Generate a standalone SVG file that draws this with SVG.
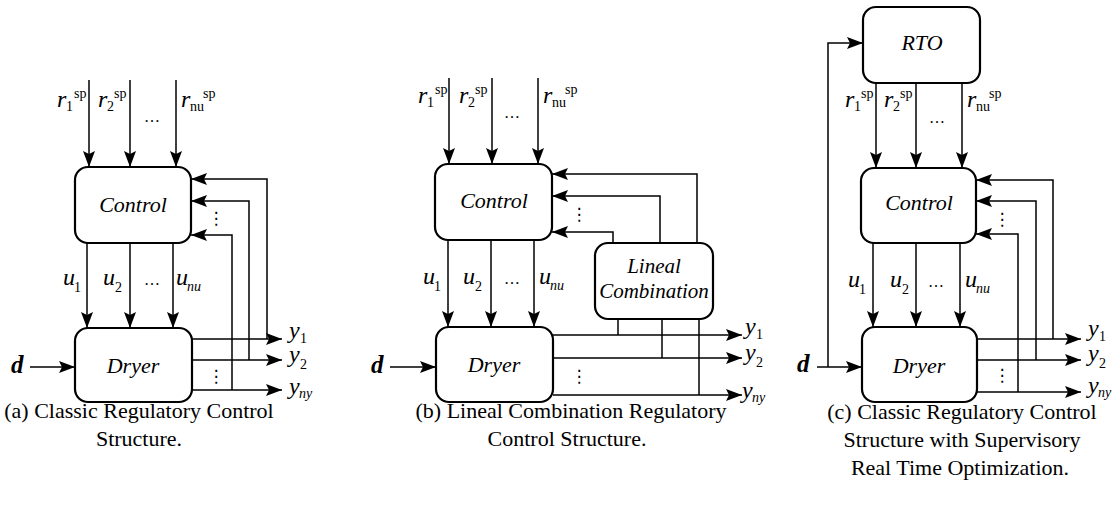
<svg xmlns="http://www.w3.org/2000/svg" width="1119" height="508" viewBox="0 0 1119 508">
  <style>
    .box { fill: #ffffff; stroke: #000000; stroke-width: 2.2; }
    .wire { fill: none; stroke: #000000; stroke-width: 1.5; }
    .arr { marker-end: url(#head); }
    .serif { font-family: 'Liberation Serif', Tinos, 'Noto Serif', 'DejaVu Serif', 'Times New Roman', Times, serif; }
    .name { font-style: italic; font-size: 22px; fill: #000; text-anchor: middle; }
    .lbl { font-style: italic; font-size: 24px; fill: #000; }
    .sub { font-style: normal; font-size: 14px; }
    .isub { font-style: italic; font-size: 14px; }
    .dist { font-style: italic; font-weight: bold; font-size: 25px; fill: #000; }
    .ell { font-size: 16px; fill: #000; text-anchor: middle; }
    .vdots { font-family: 'DejaVu Sans', sans-serif; font-size: 17px; fill: #000; text-anchor: middle; }
    .cap { font-size: 22px; fill: #000; text-anchor: middle; }
  </style>
  <defs>
    <marker id="head" markerUnits="userSpaceOnUse" markerWidth="18" markerHeight="14" refX="16" refY="7" orient="auto">
      <path d="M0,1 L16,7 L0,13 L3,7 Z" fill="#000"/>
    </marker>
  </defs>

  <!-- ===== (a) classic regulatory control ===== -->
  <g id="a-control">
    <rect class="box" x="75" y="167" width="116" height="76" rx="13"/>
    <text class="serif name" font-family="Liberation Serif, serif" x="133" y="212">Control</text>
  </g>
  <g id="a-dryer">
    <rect class="box" x="75" y="328" width="117" height="74" rx="13"/>
    <text class="serif name" font-family="Liberation Serif, serif" x="133" y="373">Dryer</text>
  </g>
  <g id="a-connectors">
    <path class="wire arr" d="M89,80 V167"/>
    <path class="wire arr" d="M130,80 V167"/>
    <path class="wire arr" d="M176,80 V167"/>
    <path class="wire arr" d="M87,243 V328"/>
    <path class="wire arr" d="M130,243 V328"/>
    <path class="wire arr" d="M173,243 V328"/>
    <path class="wire arr" d="M192,339 H282"/>
    <path class="wire arr" d="M192,360 H282"/>
    <path class="wire arr" d="M192,390 H282"/>
    <path class="wire arr" d="M267,339 V179 H191"/>
    <path class="wire arr" d="M249,360 V201 H191"/>
    <path class="wire arr" d="M232,390 V235 H191"/>
    <path class="wire arr" d="M30,367 H75"/>
  </g>
  <g id="a-labels" class="serif">
    <text class="lbl" x="57" y="107">r<tspan class="sub" x="66" y="111">1</tspan><tspan class="sub" x="74" y="98">sp</tspan></text>
    <text class="lbl" x="98" y="107">r<tspan class="sub" x="107" y="111">2</tspan><tspan class="sub" x="114" y="98">sp</tspan></text>
    <text class="lbl" x="181" y="107">r<tspan class="sub" x="190" y="111">nu</tspan><tspan class="sub" x="203" y="98">sp</tspan></text>
    <text class="ell" x="152" y="122">…</text>
    <text class="lbl" x="63" y="285">u<tspan class="sub" x="74" y="292">1</tspan></text>
    <text class="lbl" x="103" y="285">u<tspan class="sub" x="115" y="292">2</tspan></text>
    <text class="ell" x="152" y="285">…</text>
    <text class="lbl" x="176" y="285">u<tspan class="isub" x="187" y="291">nu</tspan></text>
    <text class="vdots" x="216" y="224">⋮</text>
    <text class="vdots" x="216" y="382">⋮</text>
    <text class="lbl" x="289" y="338">y<tspan class="sub" x="300" y="343">1</tspan></text>
    <text class="lbl" x="289" y="362">y<tspan class="sub" x="300" y="369">2</tspan></text>
    <text class="lbl" x="289" y="394">y<tspan class="isub" x="299" y="398">ny</tspan></text>
    <text class="dist" x="11" y="373">d</text>
    <text class="cap" x="139" y="418">(a) Classic Regulatory Control</text>
    <text class="cap" x="139" y="446">Structure.</text>
  </g>

  <!-- ===== (b) lineal combination regulatory control ===== -->
  <g id="b-control">
    <rect class="box" x="435" y="164" width="117" height="76" rx="13"/>
    <text class="serif name" x="494" y="208">Control</text>
  </g>
  <g id="b-dryer">
    <rect class="box" x="436" y="327" width="117" height="75" rx="13"/>
    <text class="serif name" x="494" y="372">Dryer</text>
  </g>
  <g id="b-combination">
    <rect class="box" x="595" y="243" width="118" height="76" rx="13"/>
    <text class="serif name" x="654" y="273" style="font-size:21px">Lineal</text>
    <text class="serif name" x="654" y="298" style="font-size:21px">Combination</text>
  </g>
  <g id="b-connectors">
    <path class="wire arr" d="M449,78 V164"/>
    <path class="wire arr" d="M492,78 V164"/>
    <path class="wire arr" d="M538,78 V164"/>
    <path class="wire arr" d="M448,240 V327"/>
    <path class="wire arr" d="M491,240 V327"/>
    <path class="wire arr" d="M534,240 V327"/>
    <path class="wire arr" d="M553,335 H742"/>
    <path class="wire arr" d="M553,358 H742"/>
    <path class="wire arr" d="M553,395 H742"/>
    <path class="wire" d="M618,335 V319"/>
    <path class="wire" d="M662,358 V319"/>
    <path class="wire" d="M699,395 V319"/>
    <path class="wire arr" d="M613,243 V232 H552"/>
    <path class="wire arr" d="M660,243 V196 H552"/>
    <path class="wire arr" d="M697,243 V174 H552"/>
    <path class="wire arr" d="M390,367 H436"/>
  </g>
  <g id="b-labels" class="serif">
    <text class="lbl" x="418" y="103">r<tspan class="sub" x="427" y="107">1</tspan><tspan class="sub" x="435" y="94">sp</tspan></text>
    <text class="lbl" x="459" y="103">r<tspan class="sub" x="468" y="107">2</tspan><tspan class="sub" x="475" y="94">sp</tspan></text>
    <text class="lbl" x="543" y="103">r<tspan class="sub" x="552" y="107">nu</tspan><tspan class="sub" x="565" y="94">sp</tspan></text>
    <text class="ell" x="512" y="118">…</text>
    <text class="lbl" x="423" y="284">u<tspan class="sub" x="434" y="291">1</tspan></text>
    <text class="lbl" x="463" y="284">u<tspan class="sub" x="475" y="291">2</tspan></text>
    <text class="ell" x="512" y="284">…</text>
    <text class="lbl" x="539" y="284">u<tspan class="isub" x="550" y="290">nu</tspan></text>
    <text class="vdots" x="579" y="220">⋮</text>
    <text class="vdots" x="579" y="382">⋮</text>
    <text class="lbl" x="745" y="334">y<tspan class="sub" x="756" y="339">1</tspan></text>
    <text class="lbl" x="745" y="360">y<tspan class="sub" x="756" y="367">2</tspan></text>
    <text class="lbl" x="742" y="398">y<tspan class="isub" x="752" y="402">ny</tspan></text>
    <text class="dist" x="371" y="373">d</text>
    <text class="cap" x="571" y="418">(b) Lineal Combination Regulatory</text>
    <text class="cap" x="567" y="446">Control Structure.</text>
  </g>

  <!-- ===== (c) classic regulatory control with supervisory RTO ===== -->
  <g id="c-rto">
    <rect class="box" x="863" y="7" width="117" height="76" rx="13"/>
    <text class="serif name" x="922" y="50">RTO</text>
  </g>
  <g id="c-control">
    <rect class="box" x="861" y="168" width="115" height="75" rx="13"/>
    <text class="serif name" x="919" y="210">Control</text>
  </g>
  <g id="c-dryer">
    <rect class="box" x="862" y="327" width="115" height="75" rx="13"/>
    <text class="serif name" x="919" y="373">Dryer</text>
  </g>
  <g id="c-connectors">
    <path class="wire arr" d="M876,83 V168"/>
    <path class="wire arr" d="M916,83 V168"/>
    <path class="wire arr" d="M962,83 V168"/>
    <path class="wire arr" d="M873,243 V327"/>
    <path class="wire arr" d="M916,243 V327"/>
    <path class="wire arr" d="M960,243 V327"/>
    <path class="wire arr" d="M977,339 H1081"/>
    <path class="wire arr" d="M977,360 H1081"/>
    <path class="wire arr" d="M977,392 H1081"/>
    <path class="wire arr" d="M1053,339 V180 H976"/>
    <path class="wire arr" d="M1036,360 V201 H976"/>
    <path class="wire arr" d="M1018,392 V234 H976"/>
    <path class="wire arr" d="M817,367 H862"/>
    <path class="wire arr" d="M828,367 V43 H863"/>
  </g>
  <g id="c-labels" class="serif">
    <text class="lbl" x="845" y="107">r<tspan class="sub" x="854" y="111">1</tspan><tspan class="sub" x="861" y="98">sp</tspan></text>
    <text class="lbl" x="884" y="107">r<tspan class="sub" x="893" y="111">2</tspan><tspan class="sub" x="900" y="98">sp</tspan></text>
    <text class="lbl" x="967" y="107">r<tspan class="sub" x="976" y="111">nu</tspan><tspan class="sub" x="989" y="98">sp</tspan></text>
    <text class="ell" x="937" y="123">…</text>
    <text class="lbl" x="848" y="287">u<tspan class="sub" x="859" y="294">1</tspan></text>
    <text class="lbl" x="890" y="287">u<tspan class="sub" x="902" y="294">2</tspan></text>
    <text class="ell" x="936" y="287">…</text>
    <text class="lbl" x="965" y="287">u<tspan class="isub" x="976" y="293">nu</tspan></text>
    <text class="vdots" x="1002" y="225">⋮</text>
    <text class="vdots" x="1002" y="381">⋮</text>
    <text class="lbl" x="1088" y="336">y<tspan class="sub" x="1099" y="341">1</tspan></text>
    <text class="lbl" x="1088" y="361">y<tspan class="sub" x="1099" y="368">2</tspan></text>
    <text class="lbl" x="1088" y="393">y<tspan class="isub" x="1098" y="397">ny</tspan></text>
    <text class="dist" x="797" y="372">d</text>
    <text class="cap" x="962" y="419">(c) Classic Regulatory Control</text>
    <text class="cap" x="962" y="447">Structure with Supervisory</text>
    <text class="cap" x="960" y="475">Real Time Optimization.</text>
  </g>
</svg>
